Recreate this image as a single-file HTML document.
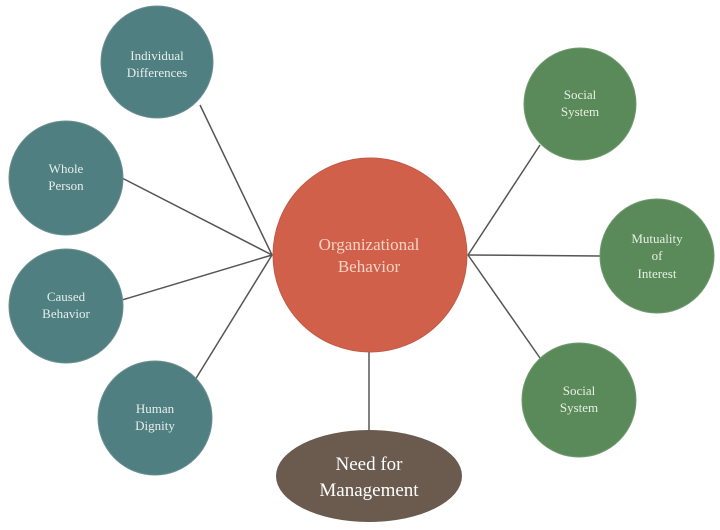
<!DOCTYPE html>
<html><head><style>body{margin:0;background:#fff}svg{display:block}</style></head>
<body>
<svg width="720" height="530" viewBox="0 0 720 530" xmlns="http://www.w3.org/2000/svg" font-family="'Liberation Serif', serif">
<g stroke="#555" stroke-width="1.5">
<line x1="272" y1="255" x2="200" y2="105"/>
<line x1="272" y1="255" x2="122" y2="178"/>
<line x1="272" y1="255" x2="122" y2="300"/>
<line x1="272" y1="255" x2="195" y2="380"/>
<line x1="468" y1="255" x2="540" y2="145"/>
<line x1="468" y1="255" x2="600" y2="256"/>
<line x1="468" y1="255" x2="540" y2="358"/>
<line x1="369" y1="352" x2="369" y2="432"/>
</g>
<g fill="#4f7f80" stroke="#6c8f90" stroke-width="1">
<circle cx="157" cy="62" r="56"/>
<circle cx="66" cy="178" r="57"/>
<circle cx="66" cy="306" r="57"/>
<circle cx="155" cy="418" r="57"/>
</g>
<g fill="#5a8a5a" stroke="#6f9a6f" stroke-width="1">
<circle cx="580" cy="104" r="56"/>
<circle cx="657" cy="256" r="57"/>
<circle cx="579" cy="400" r="57"/>
</g>
<circle cx="370" cy="255" r="97" fill="#d0604a" stroke="#c25a45"/>
<ellipse cx="369" cy="476" rx="93" ry="46" fill="#6b5a4e"/>
<g fill="#e6efee" font-size="13" text-anchor="middle">
<text x="157" y="60">Individual</text><text x="157" y="77">Differences</text>
<text x="66" y="173">Whole</text><text x="66" y="190">Person</text>
<text x="66" y="301">Caused</text><text x="66" y="318">Behavior</text>
<text x="155" y="413">Human</text><text x="155" y="430">Dignity</text>
</g>
<g fill="#e6f0e4" font-size="13" text-anchor="middle">
<text x="580" y="99">Social</text><text x="580" y="116">System</text>
<text x="657" y="243">Mutuality</text><text x="657" y="260">of</text><text x="657" y="278">Interest</text>
<text x="579" y="395">Social</text><text x="579" y="412">System</text>
</g>
<g fill="#f7d3c4" font-size="17" text-anchor="middle">
<text x="369" y="250">Organizational</text><text x="369" y="272">Behavior</text>
</g>
<g fill="#fff" font-size="19" text-anchor="middle">
<text x="369" y="470">Need for</text><text x="369" y="496">Management</text>
</g>
</svg>
</body></html>
